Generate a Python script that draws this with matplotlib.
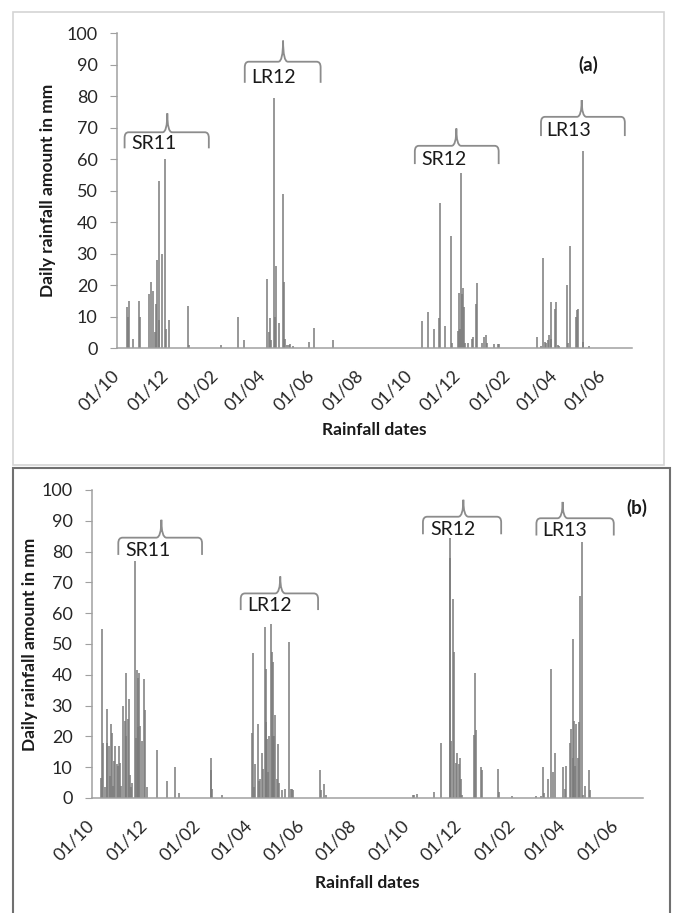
import numpy as np
import matplotlib
matplotlib.use("Agg")
import matplotlib.pyplot as plt
import matplotlib.dates as mdates
from matplotlib.path import Path
from matplotlib.patches import PathPatch, Rectangle

plt.rcParams['font.family'] = ['Lato', 'DejaVu Sans']

start = np.datetime64('2011-10-01')
base = mdates.date2num(start)

# panel (a): days since 01/10/2011 and daily rainfall (mm)
days_a = [13, 14, 15, 20, 28, 29, 40, 43, 45, 48,
          49, 50, 52, 53, 56, 60, 61, 65, 89, 90,
          130, 151, 159, 188, 190, 192, 193, 196, 198, 199,
          203, 208, 209, 211, 213, 215, 217, 220, 240, 247,
          270, 382, 389, 397, 403, 404, 411, 418, 419, 427,
          428, 429, 431, 432, 433, 434, 436, 439, 444, 446,
          449, 451, 457, 460, 462, 463, 472, 477, 479, 526,
          531, 534, 536, 537, 540, 541, 543, 544, 548, 550,
          552, 554, 563, 565, 567, 575, 576, 577, 583, 584,
          591]
rain_a = [13, 10, 15, 3, 15, 10, 17, 21, 18, 5,
          14, 28, 53, 9, 30, 60, 6, 9, 13.5, 1,
          1, 10, 2.5, 22, 5, 9.5, 2.5, 79.5, 10, 26,
          8, 49, 21, 3, 1, 1, 1.2, 0.8, 2, 6.5,
          2.5, 8.5, 11.5, 6, 9.5, 46, 7, 35.5, 1.5, 5.5,
          17.5, 6, 55.5, 17, 19, 13, 1.5, 1.5, 3, 3.5,
          14, 20.5, 1.5, 3.5, 4, 1.5, 1.2, 1.2, 1.2, 3.5,
          0.8, 28.5, 2, 1.5, 2.5, 4, 14.5, 3, 12.5, 14.5,
          1, 0.5, 20, 1.5, 32.5, 10, 12, 12.5, 62.5, 2,
          0.8]

# panel (b)
days_b = [11, 12, 13, 15, 17, 18, 20, 21, 22, 23,
          24, 26, 27, 29, 30, 31, 33, 34, 36, 38,
          39, 40, 42, 43, 44, 45, 47, 50, 51, 52,
          53, 54, 55, 56, 58, 61, 62, 64, 76, 87,
          96, 101, 138, 139, 140, 151, 186, 187, 188, 190,
          193, 194, 196, 198, 199, 201, 202, 203, 204, 205,
          206, 208, 209, 210, 211, 212, 213, 215, 216, 217,
          221, 225, 229, 231, 233, 234, 265, 266, 270, 272,
          373, 375, 378, 398, 406, 416, 417, 418, 420, 421,
          424, 425, 427, 428, 429, 430, 444, 446, 447, 452,
          454, 472, 473, 489, 516, 522, 525, 526, 530, 534,
          536, 539, 548, 550, 552, 556, 557, 559, 560, 561,
          562, 563, 565, 566, 568, 570, 571, 574, 578, 579]
rain_b = [6.5, 55, 18, 3.5, 29, 18, 17, 7, 24, 21,
          4, 12, 17, 11, 10.5, 17, 11.5, 4, 30, 25,
          40.5, 20, 25.5, 32, 7.5, 3.5, 5, 77, 19.5, 41.5,
          39, 23, 40.5, 23.5, 18.5, 38.5, 28.5, 3.5, 15.5, 5.5,
          10, 1.5, 9, 13, 3, 1, 21, 47, 3.5, 11,
          24, 5.5, 6, 14.5, 9.5, 55.5, 24.5, 42, 19, 8.5,
          20, 56.5, 47.5, 20, 44, 20, 27, 6, 17.5, 5,
          2.5, 3, 50.5, 3, 3, 2.5, 9, 2.5, 4.5, 1,
          1, 1, 1.2, 2, 18, 84.5, 78, 18.5, 64.5, 47.5,
          11.5, 14.5, 11, 13, 6, 1, 20.5, 40.5, 22, 10,
          9, 9.5, 2, 0.5, 0.5, 0.5, 10, 1.5, 6, 42,
          8.5, 14.5, 10, 3, 10.5, 18, 22.5, 13, 51.5, 25,
          10.5, 24, 13, 24.5, 65.5, 83, 1, 4, 9, 2.5]

seasons = ['SR11', 'LR12', 'SR12', 'LR13']
# brace: left, right, peak (days), end, line, top (mm), label x (days), label y (mm)
braces_a = [(9.5, 115, 63, 63.4, 68.5, 74.5, 46.5, 65.0),
            (160, 255, 208, 84.2, 90.9, 97.6, 196, 85.9),
            (373, 478, 425, 58.4, 64.2, 69.7, 410, 59.9),
            (531, 636, 582, 67.3, 73.4, 78.7, 566, 69.2)]
braces_b = [(30.6, 128, 80.7, 78.9, 84.5, 90.3, 64.6, 80.2),
            (173, 263, 219, 61.0, 66.4, 71.9, 207, 62.5),
            (385, 476, 432, 85.6, 91.3, 96.8, 420, 87.3),
            (517, 607, 547.5, 85.2, 90.8, 96.1, 549.5, 86.9)]

fig = plt.figure(figsize=(6.74, 9.13), dpi=100)

# panel frames
fig.add_artist(Rectangle((0.0193, 0.4907), 0.966, 0.4962, transform=fig.transFigure,
                         fill=False, ec='#d4d4d4', lw=1.2))
fig.add_artist(Rectangle((0.0193, -0.02), 0.975, 0.5074, transform=fig.transFigure,
                         fill=False, ec='#707070', lw=1.5))

ax1 = fig.add_axes([0.1736, 0.6188, 0.7641, 0.3450])
ax2 = fig.add_axes([0.1365, 0.1260, 0.8175, 0.3374])


def brace(ax, x0, x1, xp, y_end, y_line, y_top, rx=5, ry=1.8, cw=6):
    x0, x1, xp = base + x0, base + x1, base + xp
    pts = [(x0, y_end), (x0, y_line - ry), (x0, y_line), (x0 + rx, y_line),
           (xp - cw, y_line), (xp, y_line), (xp, y_top),
           (xp, y_line), (xp + cw, y_line),
           (x1 - rx, y_line), (x1, y_line), (x1, y_line - ry), (x1, y_end)]
    codes = [Path.MOVETO, Path.LINETO, Path.CURVE3, Path.CURVE3, Path.LINETO,
             Path.CURVE3, Path.CURVE3, Path.CURVE3, Path.CURVE3, Path.LINETO,
             Path.CURVE3, Path.CURVE3, Path.LINETO]
    ax.add_patch(PathPatch(Path(pts, codes), fill=False, ec='#8c8c8c', lw=1.3,
                           clip_on=False))


def panel(ax, days, rain, braces, tag, tag_xy, xmax, ylab_x, xlab_y):
    ax.vlines(base + np.array(days), 0, rain, color='#7a7a7a', lw=1.1)
    ax.set_xlim(base, base + xmax)
    ax.set_ylim(0, 100)
    ax.set_yticks(np.arange(0, 101, 10))
    ax.xaxis.set_major_locator(mdates.MonthLocator(bymonth=[2, 4, 6, 8, 10, 12]))
    ax.xaxis.set_major_formatter(mdates.DateFormatter('%d/%m'))
    for s in ['top', 'right']:
        ax.spines[s].set_visible(False)
    for s in ['left', 'bottom']:
        ax.spines[s].set_color('#a0a0a0')
        ax.spines[s].set_linewidth(1.1)
    ax.tick_params(axis='y', length=5, color='#a0a0a0', pad=9, labelsize=13,
                   labelcolor='#262626')
    ax.tick_params(axis='x', length=0, pad=18, labelsize=13, labelcolor='#262626')
    for lab in ax.get_xticklabels():
        lab.set_rotation(45)
        lab.set_ha('right')
        lab.set_va('center')
        lab.set_rotation_mode('anchor')
    for name, b in zip(seasons, braces):
        brace(ax, *b[:6])
        ax.text(base + b[6], b[7], name, ha='center', va='center', fontsize=14,
                color='#1a1a1a')
    ax.text(base + tag_xy[0], tag_xy[1], tag, ha='center', va='center',
            fontsize=13.5, fontweight='bold', color='#1a1a1a')
    ax.set_ylabel('Daily rainfall amount in mm', fontsize=12.5, fontweight='bold',
                  color='#1a1a1a')
    ax.set_xlabel('Rainfall dates', fontsize=12.5, fontweight='bold', color='#1a1a1a')
    ax.yaxis.set_label_coords(ylab_x, 0.5)
    ax.xaxis.set_label_coords(0.5, xlab_y)


panel(ax1, days_a, rain_a, braces_a, '(a)', (590, 89.8), 645, -0.118, -0.235)
panel(ax2, days_b, rain_b, braces_b, '(b)', (634, 94), 641, -0.098, -0.25)

fig.savefig('out.png', dpi=100)
